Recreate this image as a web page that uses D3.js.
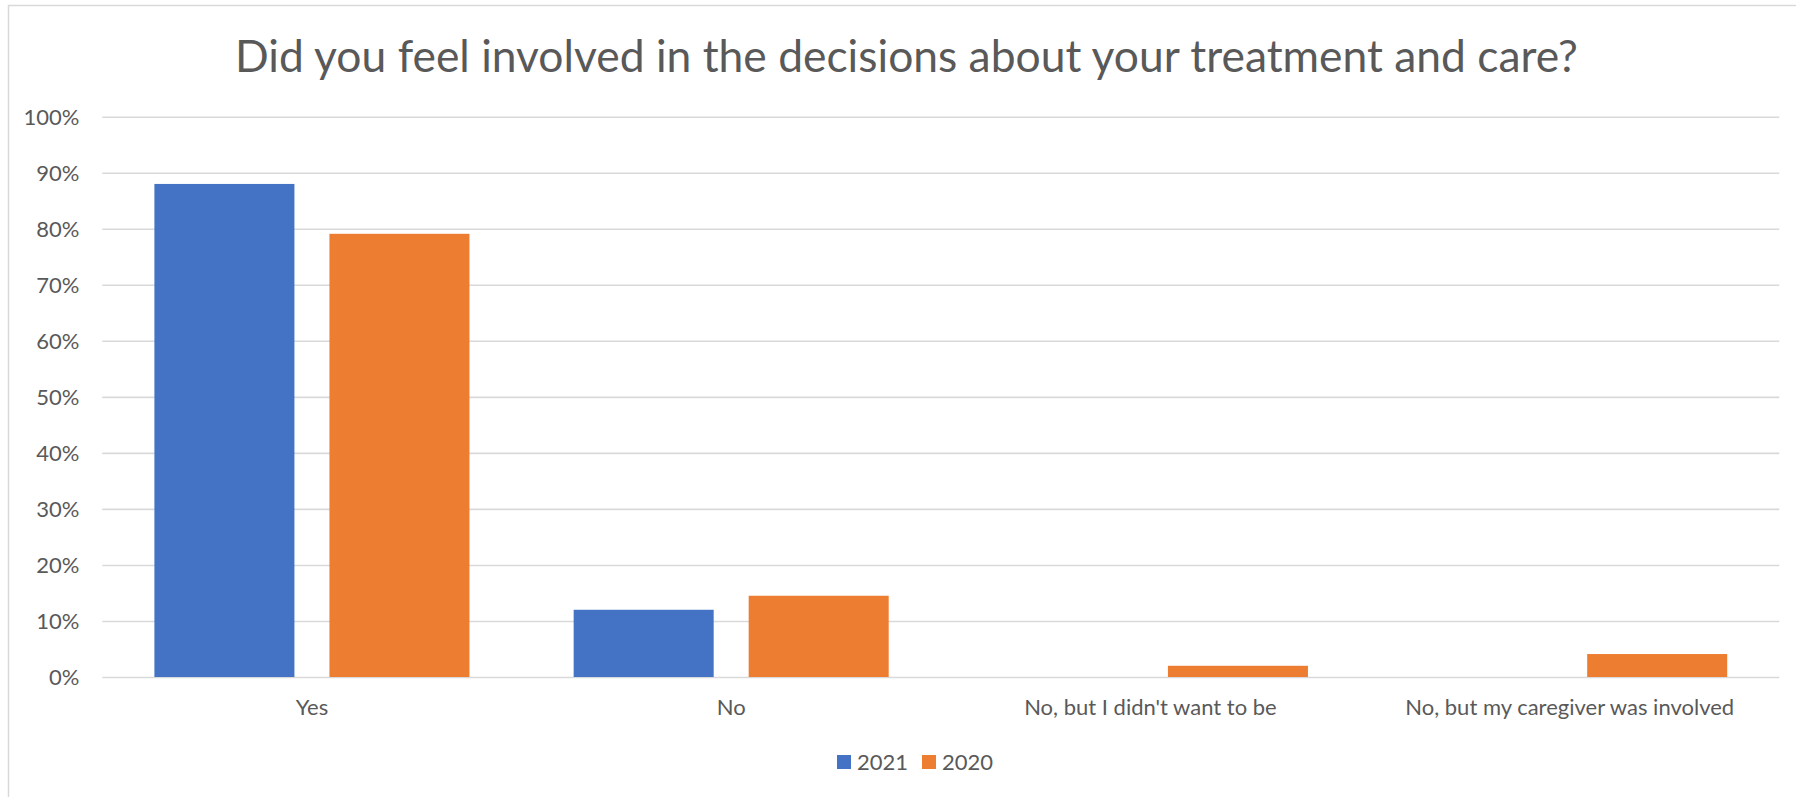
<!DOCTYPE html>
<html>
<head>
<meta charset="utf-8">
<script src="https://cdn.jsdelivr.net/npm/d3@7"></script>
<style>
  html, body { margin: 0; padding: 0; background: #ffffff; }
  svg { display: block; }
  text { font-family: Lato, "Open Sans", "Liberation Sans", sans-serif; fill: #595959; }
</style>
</head>
<body>
<svg id="chart" width="1796" height="797"></svg>
<script>
// ---- data ----
const title = "Did you feel involved in the decisions about your treatment and care?";
const categories = ["Yes", "No", "No, but I didn't want to be", "No, but my caregiver was involved"];
const seriesNames = ["2021", "2020"];
const values2021 = [0.88, 0.12, 0, 0];
const values2020 = [0.791, 0.145, 0.020, 0.041];
const yTicks = [0, 0.1, 0.2, 0.3, 0.4, 0.5, 0.6, 0.7, 0.8, 0.9, 1.0];
const colors = ["#4472C4", "#ED7D31"];

const seriesValues = [values2021, values2020];

// ---- layout ----
const W = 1796, H = 797;
const plot = { left: 102.3, right: 1779.3, top: 116.7, bottom: 677 };
const labelSize = "22px";

const svg = d3.select("#chart");

// chart frame (extends beyond the right/bottom edges like the reference crop)
svg.append("rect")
  .attr("x", 8.5).attr("y", 5.5)
  .attr("width", 1810).attr("height", 810)
  .attr("fill", "#ffffff")
  .attr("stroke", "#d9d9d9").attr("stroke-width", 1.5);

// scales
const x = d3.scaleBand().domain(categories).range([plot.left, plot.right]).paddingInner(0).paddingOuter(0);
const catGap = 52.1;
const xs = d3.scaleBand().domain(seriesNames)
  .range([catGap, x.bandwidth() - catGap]).paddingInner(0.2).paddingOuter(0);
const y = d3.scaleLinear().domain([0, 1]).range([plot.bottom, plot.top]);

// gridlines + y labels
const yAxis = d3.axisLeft(y).tickValues(yTicks).tickFormat(d3.format(".0%"))
  .tickSize(-(plot.right - plot.left)).tickPadding(23);
const gy = svg.append("g").attr("transform", `translate(${plot.left},0)`).call(yAxis);
gy.select(".domain").remove();
gy.selectAll(".tick line").attr("stroke", "#d9d9d9").attr("stroke-width", 1.6);
gy.selectAll(".tick text")
  .attr("fill", "#595959")
  .style("font-size", labelSize)
  .attr("dy", "0.34em");

// bars
const groups = svg.append("g").selectAll("g")
  .data(seriesNames.map((s, i) => ({ name: s, color: colors[i], vals: seriesValues[i] })))
  .join("g")
  .attr("fill", d => d.color);

groups.selectAll("rect")
  .data(d => d.vals.map((v, j) => ({ series: d.name, cat: categories[j], v })))
  .join("rect")
  .attr("x", d => x(d.cat) + xs(d.series))
  .attr("width", xs.bandwidth())
  .attr("y", d => y(d.v))
  .attr("height", d => y(0) - y(d.v));

// x axis labels
const xAxis = d3.axisBottom(x).tickSize(0).tickPadding(22);
const gx = svg.append("g").attr("transform", `translate(0,${plot.bottom})`).call(xAxis);
gx.select(".domain").remove();
gx.selectAll(".tick text")
  .attr("fill", "#595959")
  .style("font-size", labelSize);

// title, fitted to reference width
const titleText = svg.append("text")
  .attr("x", 906.5).attr("y", 72)
  .attr("text-anchor", "middle")
  .style("font-size", "50px")
  .attr("fill", "#595959")
  .text(title);
const targetW = 1343;
const curW = titleText.node().getComputedTextLength();
titleText.style("font-size", (50 * targetW / curW).toFixed(2) + "px");

// legend
const legend = svg.append("g");
const sq = 14;
const legendItems = [
  { name: seriesNames[0], color: colors[0], x: 837 },
  { name: seriesNames[1], color: colors[1], x: 922 }
];
legendItems.forEach(it => {
  legend.append("rect").attr("x", it.x).attr("y", 755).attr("width", sq).attr("height", sq).attr("fill", it.color);
  legend.append("text").attr("x", it.x + sq + 6).attr("y", 769.5)
    .style("font-size", labelSize).attr("fill", "#595959").text(it.name);
});
</script>
</body>
</html>
